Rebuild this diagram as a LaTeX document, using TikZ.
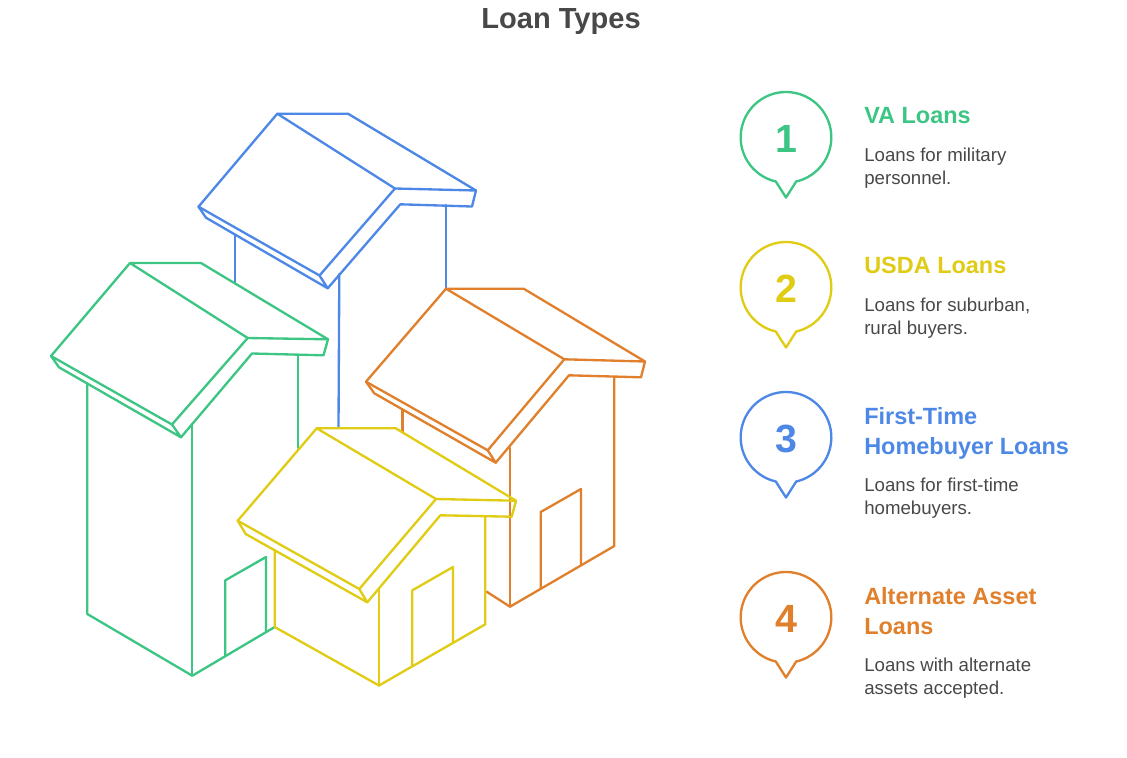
\documentclass[tikz,border=0pt]{standalone}
\usepackage{fontspec}
\setmainfont{Liberation Sans}
\definecolor{cgreen}{HTML}{3CC583}
\definecolor{cyellow}{HTML}{E0CB15}
\definecolor{cblue}{HTML}{4E88E7}
\definecolor{corange}{HTML}{E0802C}
\definecolor{cgray}{HTML}{484848}
\tikzset{
  hline/.style={line width=1.75pt,line join=round,line cap=round},
  titletext/.style={font=\bfseries\fontsize{21.8}{27}\selectfont,text=cgray,inner sep=0pt,anchor=base},
  headtext/.style={font=\bfseries\fontsize{17.6}{22.5}\selectfont,inner sep=0pt,anchor=north west,align=left},
  bodytext/.style={font=\fontsize{14}{17.25}\selectfont,text=cgray,inner sep=0pt,anchor=north west,align=left},
  numtext/.style={font=\bfseries\fontsize{29.5}{34}\selectfont,inner sep=0pt},
}
\newcommand{\roofpath}[1]{%
  \draw[hline,#1] (A)--(B)--(C)--(D)--cycle;
  \draw[hline,#1] (A)--(E)--(F)--(D);
  \draw[hline,#1] (E)--(H)--(G)--(F);
  \draw[hline,#1] (G)--(J)--(I)--(C);
}
\newcommand{\bubblemark}[4]{%
  \draw[hline,#3] (#1-10.2,#2+44) arc[start angle=257,end angle=-77,radius=34pt]
     -- (#1,#2+60) -- cycle;
  \node[numtext,text=#3] (num#4) at (#1,#2+1) {#4};
}
\begin{document}
\begin{tikzpicture}[x=0.75pt,y=-0.75pt]
\useasboundingbox (0,0) rectangle (1127,757);
\node[titletext] (title) at (561,28) {Loan Types};

% blue house
\draw[hline,cblue] (234.7,235)--(234.7,283.5);
\draw[hline,cblue] (339.3,274)--(338.5,428);
\draw[hline,cblue] (446,205)--(446,289);
\coordinate (A) at (277.3,113.7); \coordinate (B) at (348,113.7);
\coordinate (C) at (476,190.5); \coordinate (D) at (395,188.5);
\coordinate (E) at (198.5,206.7); \coordinate (F) at (319.5,275.5);
\coordinate (G) at (327.7,288.3); \coordinate (H) at (206,217.7);
\coordinate (I) at (472,206.5); \coordinate (J) at (400.3,204.3);
\roofpath{cblue}

% green house
\draw[hline,cgreen] (87.3,384)--(87.3,614)--(192.3,675.7)--(274.7,627);
\draw[hline,cgreen] (192.3,424)--(192.3,675.7);
\draw[hline,cgreen] (298.3,355)--(298.3,448);
\draw[hline,cgreen] (225.3,656)--(225.3,580.3)--(266,557)--(266,631.5);
\coordinate (A) at (130,263); \coordinate (B) at (201,263);
\coordinate (C) at (328,339.3); \coordinate (D) at (247.7,338);
\coordinate (E) at (51,356); \coordinate (F) at (172,424.5);
\coordinate (G) at (181,437.3); \coordinate (H) at (59,367.3);
\coordinate (I) at (323.5,355.3); \coordinate (J) at (252,353.5);
\roofpath{cgreen}

% orange house
\draw[hline,corange] (402.5,410)--(402.5,432);
\draw[hline,corange] (510,448)--(510,606.7);
\draw[hline,corange] (614.3,377)--(614.3,546)--(510,606.7)--(486.7,591.7);
\draw[hline,corange] (540.7,588.5)--(540.7,512)--(581,489)--(581,565);
\coordinate (A) at (446,288.7); \coordinate (B) at (523.7,288.7);
\coordinate (C) at (645,361.5); \coordinate (D) at (564.3,359.3);
\coordinate (E) at (366,381.7); \coordinate (F) at (487.7,450.3);
\coordinate (G) at (495.7,462.7); \coordinate (H) at (374.3,393.3);
\coordinate (I) at (641,377.3); \coordinate (J) at (569,375.3);
\roofpath{corange}

% yellow house
\draw[hline,cyellow] (274.7,550)--(274.7,627)--(379,685.5)--(485.3,624.3)--(485.3,516.7);
\draw[hline,cyellow] (379,590)--(379,685.5);
\draw[hline,cyellow] (412.3,666)--(412.3,590.3)--(453,567)--(453,643.3);
\coordinate (A) at (316.7,428.3); \coordinate (B) at (395.7,428.3);
\coordinate (C) at (516,500.7); \coordinate (D) at (436,499);
\coordinate (E) at (237.7,520.7); \coordinate (F) at (359.3,589);
\coordinate (G) at (367.3,602.3); \coordinate (H) at (245.7,534);
\coordinate (I) at (511.7,516.7); \coordinate (J) at (440.3,515.3);
\roofpath{cyellow}

% legend
\bubblemark{786}{137.5}{cgreen}{1}
\bubblemark{786}{287.5}{cyellow}{2}
\bubblemark{786}{437.5}{cblue}{3}
\bubblemark{786}{617.5}{corange}{4}

\node[headtext,text=cgreen] (h1) at (864,107) {VA Loans};
\node[bodytext] (b1) at (864,147.5) {Loans for military\\personnel.};
\node[headtext,text=cyellow] (h2) at (864,257) {USDA Loans};
\node[bodytext] (b2) at (864,297.5) {Loans for suburban,\\rural buyers.};
\node[headtext,text=cblue] (h3) at (864,407) {First-Time\\Homebuyer Loans};
\node[bodytext] (b3) at (864,477.5) {Loans for first-time\\homebuyers.};
\node[headtext,text=corange] (h4) at (864,587) {Alternate Asset\\Loans};
\node[bodytext] (b4) at (864,657.5) {Loans with alternate\\assets accepted.};
\end{tikzpicture}
\end{document}
